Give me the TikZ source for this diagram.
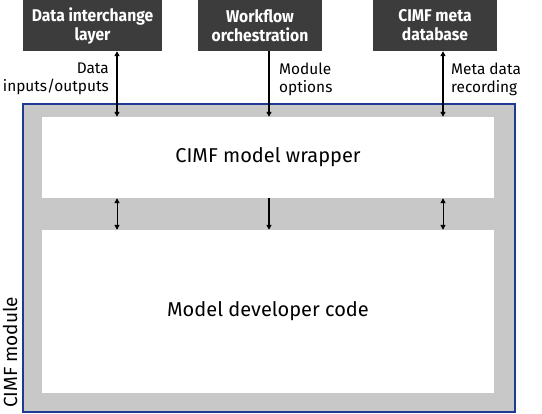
\documentclass[tikz,border=0pt]{standalone}
\usepackage{fontspec}
\setmainfont{Fira Sans}
\newfontfamily\boxfont[FakeStretch=0.92]{Fira Sans}
\usetikzlibrary{arrows.meta}
\definecolor{boxgray}{HTML}{3C3C3C}
\definecolor{modgray}{HTML}{C8C8C8}
\definecolor{modblue}{HTML}{1F3A93}
\tikzset{
	topbox/.style = {fill = boxgray, text = white, font = \boxfont\fontsize{17}{19}\selectfont\bfseries, align = center, minimum height = 51pt, inner sep = 0pt},
	layerbox/.style = {fill = white, minimum width = 452pt, inner sep = 0pt, font = \fontsize{20}{22}\selectfont},
	lbl/.style = {font = \fontsize{15.4}{18}\selectfont, inner sep = 0pt},
	tip/.style = {line width = 1.3pt, {Triangle[length=5pt,width=5pt]}-{Triangle[length=5pt,width=5pt]}},
	tipdown/.style = {line width = 1.3pt, -{Triangle[length=5pt,width=5pt]}}
}
\begin{document}
\begin{tikzpicture}[x = 1pt, y = -1pt]
	\useasboundingbox (0,0) rectangle (542,414);
	% module frame
	\node[fill = modgray, draw = modblue, line width = 1.2pt, minimum width = 492pt, minimum height = 308pt, inner sep = 0pt] (mod) at (269,258) {};
	\node[layerbox, minimum height = 81pt] (wrap) at (268,157.5) {CIMF model wrapper};
	\node[layerbox, minimum height = 163pt] (dev) at (268,311.5) {Model developer code};
	\node[rotate = 90, font = \fontsize{19}{21}\selectfont, anchor = west, inner sep = 0pt] (modlbl) at (10,408) {CIMF module};
	% top boxes
	\node[topbox, minimum width = 139pt] (dil) at (92.5,25.5) {Data interchange\\layer};
	\node[topbox, minimum width = 124pt] (wfo) at (260,25.5) {Workflow\\orchestration};
	\node[topbox, minimum width = 124pt] (meta) at (435,25.5) {CIMF meta\\database};
	% connectors
	\draw[tip] (dil.south -| 117,0) -- (wrap.north -| 117,0);
	\draw[tipdown] (wfo.south -| 269,0) -- (wrap.north -| 269,0);
	\draw[tip] (meta.south -| 443,0) -- (wrap.north -| 443,0);
	\draw[tip, line width = 1pt] (wrap.south -| 117,0) -- (dev.north -| 117,0);
	\draw[tipdown] (wrap.south -| 269,0) -- (dev.north -| 269,0);
	\draw[tip, line width = 1pt] (wrap.south -| 443,0) -- (dev.north -| 443,0);
	% labels
	\node[lbl, align = right, anchor = east] (l1) at (109,79) {Data\\inputs/outputs};
	\node[lbl, align = left, anchor = west] (l2) at (279,79) {Module\\options};
	\node[lbl, align = left, anchor = west] (l3) at (451,79) {Meta data\\recording};
\end{tikzpicture}
\end{document}
